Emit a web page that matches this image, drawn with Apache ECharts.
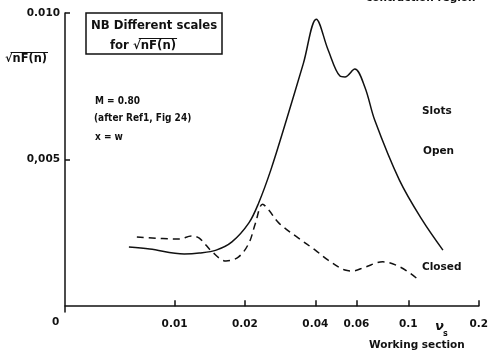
<!DOCTYPE html>
<html><head><meta charset="utf-8">
<script src="https://cdn.jsdelivr.net/npm/echarts@6/dist/echarts.min.js"></script>
<style>html,body{margin:0;padding:0;background:#fff}#c{width:491px;height:359px}</style>
</head><body><div id="c"></div>
<script>
// Frequency parameter n_s (log scale) and sqrt(nF(n))
const openX   = [0.00638,0.00783,0.0110,0.01276,0.01507,0.0176,0.0208,0.0229,0.0258,0.0301,0.0356,0.0404,0.0454,0.0510,0.0536,0.0590,0.0652,0.0718,0.0916,0.1146,0.1406];
const openY   = [0.00202,0.00195,0.00178,0.00181,0.00191,0.00219,0.00284,0.00352,0.00464,0.00635,0.00829,0.00979,0.00874,0.00785,0.00782,0.00809,0.00747,0.00635,0.00430,0.00294,0.00191];
const closedX = [0.00690,0.0105,0.0118,0.01276,0.0145,0.0166,0.0188,0.0208,0.0222,0.0238,0.0253,0.0279,0.0339,0.0400,0.0454,0.0536,0.0579,0.0652,0.0777,0.0925,0.1082];
const closedY = [0.00236,0.00229,0.00239,0.00232,0.00185,0.00154,0.00168,0.00215,0.00284,0.00348,0.00328,0.00284,0.00232,0.00191,0.00157,0.00123,0.00120,0.00133,0.00151,0.00133,0.00096];
const xTicks = [0.01,0.02,0.04,0.06,0.1,0.2];
const xTickLabels = ['0.01','0.02','0.04','0.06','0.1','0.2'];
const yTicks = [0.005,0.010];
const yTickLabels = ['0,005','0.010'];

const F = 'DejaVu Sans';
const FONT = 'bold 10.5px "'+F+'"';
const BOX = 'bold 11.7px "'+F+'"';
const YL = 'bold 11.4px "'+F+'"';
const NARROW = 'bold 10px "Liberation Sans Narrow", "DejaVu Sans Condensed", sans-serif';
const mctx = document.createElement('canvas').getContext('2d');
const w = (s, font) => { mctx.font = font; return mctx.measureText(s).width; };

const chart = echarts.init(document.getElementById('c'));
const pair = (xs, ys) => xs.map((x,i)=>[x, ys[i]]);
const txt = (x,y,t,font) => ({type:'text', left:x, top:y, style:{text:t, font:font||FONT, fill:'#111'}});
const sqrtOver = (x, y, before, font) => { // overline above nF(n) after the radical
  const x1 = x + w(before + '√', font) - 2, x2 = x + w(before + '√nF(n)', font) + 1;
  return {type:'line', shape:{x1:x1, y1:y, x2:x2, y2:y}, style:{stroke:'#111', lineWidth:1.2}};
};
chart.setOption({
  animation:false,
  grid:{left:65, right:12, top:13, bottom:47},
  xAxis:{type:'log', min:0.0034, max:0.2, logBase:10,
    axisLine:{lineStyle:{color:'#111', width:1.5}},
    axisTick:{show:true, inside:true, length:6, customValues:xTicks, lineStyle:{color:'#111', width:1.5}},
    axisLabel:{customValues:xTicks, margin:7, color:'#111', fontFamily:F, fontWeight:'bold', fontSize:10.5,
      formatter:v=>{const i=xTicks.findIndex(t=>Math.abs(t-v)/t<1e-6); return i>=0?xTickLabels[i]:'';}},
    splitLine:{show:false}, minorTick:{show:false}},
  yAxis:{type:'value', min:-0.0002, max:0.010,
    axisLine:{show:true, lineStyle:{color:'#111', width:1.5}},
    axisTick:{show:true, inside:true, length:5, customValues:yTicks, lineStyle:{color:'#111', width:1.5}},
    axisLabel:{customValues:yTicks, margin:5, color:'#111', fontFamily:F, fontWeight:'bold', fontSize:10.5,
      formatter:v=>{const i=yTicks.findIndex(t=>Math.abs(t-v)<1e-9); return i>=0?yTickLabels[i]:'';}},
    splitLine:{show:false}},
  series:[
    {type:'line', data:pair(openX, openY), smooth:0.35, symbol:'none', lineStyle:{color:'#111', width:1.5}},
    {type:'line', data:pair(closedX, closedY), smooth:0.35, symbol:'none', lineStyle:{color:'#111', width:1.5, type:[7,5]}}
  ],
  graphic:[
    {type:'rect', shape:{x:86, y:13, width:136, height:41}, style:{fill:'none', stroke:'#111', lineWidth:1.5}},
    txt(91,20,'NB Different scales', BOX),
    txt(110,40,'for √nF(n)', BOX),
    sqrtOver(110, 38.5, 'for ', BOX),
    txt(5,54,'√nF(n)', YL),
    sqrtOver(5, 52.5, '', YL),
    txt(95,96,'M = 0.80', NARROW),
    txt(94,113,'(after Ref1, Fig 24)', NARROW),
    txt(95,132,'x = w', NARROW),
    txt(422,106,'Slots'),
    txt(423,146,'Open'),
    txt(422,262,'Closed'),
    txt(52,317,'0'),
    txt(435,320,'ν', 'italic bold 13px "'+F+'"'),
    txt(443,330,'s', 'bold 8px "'+F+'"'),
    txt(369,340,'Working section'),
    txt(366,-7,'contraction region')
  ]
});
</script></body></html>
